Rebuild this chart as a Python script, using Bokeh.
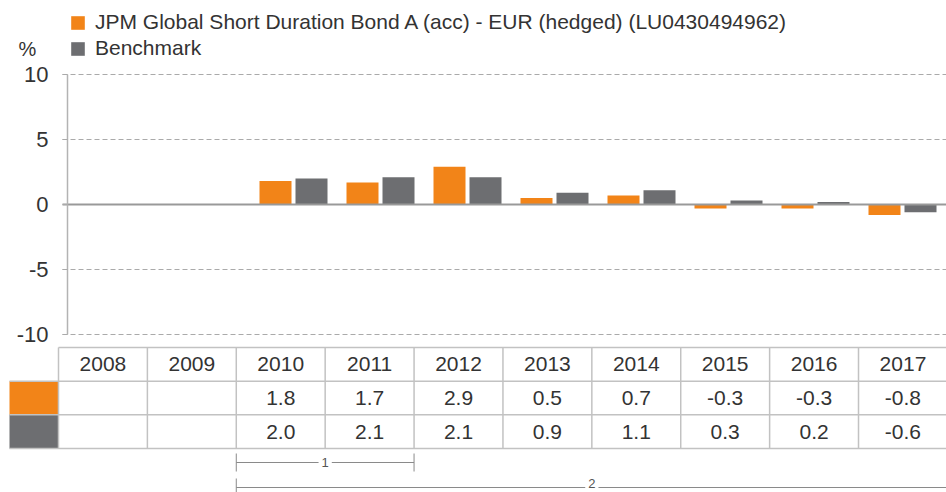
import math
from bokeh.plotting import figure
from bokeh.models import (Range1d, FixedTicker, Legend, LegendItem, ColumnDataSource)
from bokeh.transform import dodge
from bokeh.core.properties import value
from bokeh.embed import file_html
from bokeh.resources import INLINE

# ---------------- data ----------------
years = [2008, 2009, 2010, 2011, 2012, 2013, 2014, 2015, 2016, 2017]
fund = [math.nan, math.nan, 1.8, 1.7, 2.9, 0.5, 0.7, -0.3, -0.3, -0.8]
bench = [math.nan, math.nan, 2.0, 2.1, 2.1, 0.9, 1.1, 0.3, 0.2, -0.6]
fund_name = "JPM Global Short Duration Bond A (acc) - EUR (hedged) (LU0430494962)"
bench_name = "Benchmark"
y_ticks = [-10, -5, 0, 5, 10]
y_unit_label = "%"
periods = ["1", "2"]
period_start = [2010, 2010]
period_end = [2011, 2017]

# ---------------- style ----------------
ORANGE = "#f28418"
GREY = "#6d6e71"
TEXT = "#333333"
FONT = "Liberation Sans"
W, H = 946, 492

def fmt(v):
    return "" if (v is None or (isinstance(v, float) and math.isnan(v))) else f"{v:.1f}"

src = ColumnDataSource(dict(year=years, fund=fund, bench=bench,
                            fund_txt=[fmt(v) for v in fund],
                            bench_txt=[fmt(v) for v in bench],
                            year_txt=[str(y) for y in years]))

# ---------------- scales (frame = whole canvas) ----------------
px_per_cat = 87.0          # chart category pitch
px_per_unit = 13.0         # chart px per percent
first_center_px = 119.0
axis_px = 67.0
zero_px = 204.0
x0 = years[0] - first_center_px / px_per_cat
x1 = years[0] + (W - first_center_px) / px_per_cat
y1 = zero_px / px_per_unit
y0 = -(H - zero_px) / px_per_unit
axis_x = x0 + axis_px / px_per_cat
grid_x = x0 + (axis_px - 5) / px_per_cat

col_px = 88.89             # table column pitch
row_px = 33.67             # table row height
table_left_px = 58.0
table_top_px = 347.0
tx0 = years[0] - 0.5 - table_left_px / col_px
tx1 = tx0 + W / col_px
ty1 = 2.5 + table_top_px / row_px
ty0 = ty1 - H / row_px
swatch_left = years[0] - 0.5 - 49.0 / col_px

p = figure(width=W, height=H, x_range=Range1d(x0, x1), y_range=Range1d(y0, y1),
           x_axis_location=None, toolbar_location=None, output_backend="svg",
           min_border=0, min_border_left=0, min_border_right=0,
           min_border_top=0, min_border_bottom=0)
p.extra_x_ranges = {"table": Range1d(tx0, tx1)}
p.extra_y_ranges = {"table": Range1d(ty0, ty1)}
p.outline_line_color = None
p.background_fill_color = "white"
p.xgrid.visible = False
p.ygrid.visible = False

# y axis drawn at a fixed location inside the frame
ax = p.yaxis[0]
ax.fixed_location = axis_x
ax.ticker = FixedTicker(ticks=y_ticks)
ax.bounds = (-10, 10)
ax.axis_line_color = "#b3b3b3"
ax.axis_line_width = 1.5
ax.major_tick_out = 5
ax.major_tick_in = 0
ax.major_tick_line_color = "#aaaaaa"
ax.minor_tick_line_color = None
ax.major_label_standoff = 14
ax.major_label_text_font_size = "22px"
ax.major_label_text_font = FONT
ax.major_label_text_color = TEXT
ax.major_label_overrides = {t: str(t) for t in y_ticks}

# grid lines
gt = [t for t in y_ticks if t != 0]
p.segment(x0=[grid_x] * len(gt), x1=[x1] * len(gt), y0=gt, y1=gt,
          line_color="#aaaaaa", line_width=1, line_dash="5 3")

bw = 32.0 / px_per_cat
off = 18.0 / px_per_cat
r1 = p.vbar(x=dodge("year", -off, range=p.x_range), top="fund", width=bw, source=src,
            fill_color=ORANGE, line_color=None)
r2 = p.vbar(x=dodge("year", off, range=p.x_range), top="bench", width=bw, source=src,
            fill_color=GREY, line_color=None)

# zero line
p.segment(x0=[grid_x], x1=[x1], y0=[0], y1=[0], line_color="#999999", line_width=2)

# unit label above the axis
p.text(x=[x0 + 27.0 / px_per_cat], y=[10 + 26.0 / px_per_unit], text=[y_unit_label],
       text_font=value(FONT), text_font_size="20px", text_color=TEXT,
       text_align="center", text_baseline="middle")

legend = Legend(items=[LegendItem(label=fund_name, renderers=[r1]),
                       LegendItem(label=bench_name, renderers=[r2])],
                location=(69, 432))
legend.margin = 0
legend.padding = 0
legend.spacing = 2
legend.glyph_width = 17
legend.glyph_height = 17
legend.label_standoff = 9
legend.label_text_font = FONT
legend.label_text_font_size = "21px"
legend.label_text_color = TEXT
legend.border_line_color = None
legend.background_fill_alpha = 0
p.add_layout(legend)

# ---------------- table ----------------
tr = dict(x_range_name="table", y_range_name="table")
p.quad(left=[swatch_left, swatch_left], right=[years[0] - 0.5] * 2,
       bottom=[0.5, -0.5], top=[1.5, 0.5], fill_color=[ORANGE, GREY], line_color=None, **tr)

LINE = "#c2c2c2"
vx = [y - 0.5 for y in years] + [years[-1] + 0.5]
p.segment(x0=vx, x1=vx, y0=[-0.5] * len(vx), y1=[2.5] * len(vx),
          line_color=LINE, line_width=1.5, **tr)
p.segment(x0=[years[0] - 0.5, swatch_left, swatch_left, swatch_left],
          x1=[tx1] * 4, y0=[2.5, 1.5, 0.5, -0.5], y1=[2.5, 1.5, 0.5, -0.5],
          line_color=LINE, line_width=1.5, **tr)

tstyle = dict(text_font=value(FONT), text_font_size="21px", text_color=TEXT,
              text_align="center", text_baseline="middle", source=src, **tr)
p.text(x="year", y=2, text="year_txt", **tstyle)
p.text(x="year", y=1, text="fund_txt", **tstyle)
p.text(x="year", y=0, text="bench_txt", **tstyle)

# period brackets
bracket_y = [-0.5 - 14.0 / row_px, -0.5 - 39.0 / row_px]
label_shift_px = [0, -4]   # keep the lowest label inside the canvas
tick_h = 9.0 / row_px
bx0 = [s - 0.5 for s in period_start]
bx1 = [e + 0.5 for e in period_end]
BR = "#8a8a8a"
p.segment(x0=bx0, x1=bx1, y0=bracket_y, y1=bracket_y, line_color=BR, line_width=1, **tr)
p.segment(x0=bx0 + bx1, x1=bx0 + bx1,
          y0=[b - tick_h for b in bracket_y] * 2, y1=[b + tick_h for b in bracket_y] * 2,
          line_color=BR, line_width=1, **tr)
lab_src = ColumnDataSource(dict(x=[(a + b) / 2 for a, b in zip(bx0, bx1)], y=bracket_y,
                                text=periods, dy=label_shift_px))
p.text(x="x", y="y", text="text", y_offset="dy", source=lab_src,
       text_font=value(FONT), text_font_size="13px", text_color="#555555",
       text_align="center", text_baseline="middle",
       background_fill_color="white", padding=3, **tr)

open("out.html", "w").write(file_html(p, INLINE))
